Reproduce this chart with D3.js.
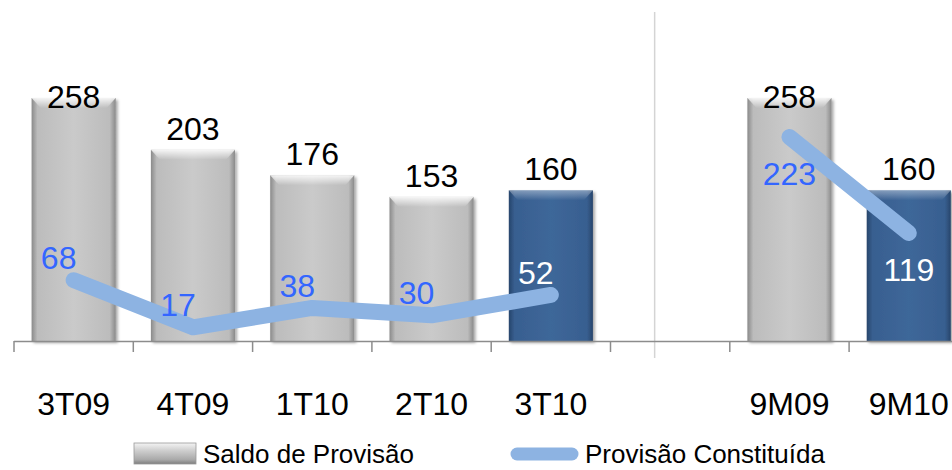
<!DOCTYPE html>
<html lang="pt">
<head>
    <meta charset="UTF-8">
    <title>Saldo de Provisão</title>
    <script src="https://d3js.org/d3.v7.min.js"></script>
    <style>
        body { margin: 0; background: white; }
        text { font-family: "Liberation Sans", Arial, sans-serif; }
    </style>
</head>
<body>
    <svg id="svg1" width="952" height="470" style="background: white"></svg>

    <script>
        // data ---------------------------------------------------------------
        const categories = ["3T09", "4T09", "1T10", "2T10", "3T10", "", "9M09", "9M10"];
        const saldo      = [258, 203, 176, 153, 160, null, 258, 160];     // bars
        const provisao   = [68, 17, 38, 30, 52, null, 223, 119];          // line
        const highlighted = ["3T10", "9M10"];                             // dark blue bars
        const legendLabels = ["Saldo de Provisão", "Provisão Constituída"];

        // layout -------------------------------------------------------------
        const svg = d3.select("svg#svg1");
        const baseY = 341;
        const axisLeft = 14;

        const x = d3.scaleBand()
            .domain(categories.map((c, i) => i))
            .range([axisLeft, axisLeft + 8 * 119.3]);
        const barW = x.bandwidth() * 0.705;

        const yBar = d3.scaleLinear().domain([0, 258]).range([baseY, 98]);
        const yLine = d3.scaleLinear().domain([0, 223]).range([343, 137]);

        const defs = svg.append("defs");

        function hGrad(id, edge, mid, center) {
            const g = defs.append("linearGradient").attr("id", id)
                .attr("x1", "0").attr("x2", "1").attr("y1", "0").attr("y2", "0");
            [[0, edge], [0.07, mid], [0.5, center], [0.93, mid], [1, edge]]
                .forEach(s => g.append("stop").attr("offset", s[0]).attr("stop-color", s[1]));
        }
        hGrad("grayBar", "#8a8a8a", "#bcbcbc", "#cacaca");
        hGrad("blueBar", "#27456b", "#385f90", "#3e6799");

        const bevel = defs.append("linearGradient").attr("id", "bevel")
            .attr("x1", "0").attr("x2", "0").attr("y1", "0").attr("y2", "1");
        bevel.append("stop").attr("offset", 0).attr("stop-color", "white").attr("stop-opacity", 0.85);
        bevel.append("stop").attr("offset", 1).attr("stop-color", "white").attr("stop-opacity", 0);

        const legendGrad = defs.append("linearGradient").attr("id", "legendGray")
            .attr("x1", "0").attr("x2", "0").attr("y1", "0").attr("y2", "1");
        [[0, "#f4f4f4"], [0.35, "#cfcfcf"], [0.8, "#a8a8a8"], [1, "#7d7d7d"]]
            .forEach(s => legendGrad.append("stop").attr("offset", s[0]).attr("stop-color", s[1]));

        const shadow = defs.append("filter").attr("id", "shadow")
            .attr("x", "-20%").attr("y", "-20%").attr("width", "140%").attr("height", "140%");
        shadow.append("feDropShadow").attr("dx", 2).attr("dy", 2)
            .attr("stdDeviation", 1.8).attr("flood-color", "#000").attr("flood-opacity", 0.35);

        // separator between quarterly and 9M panels
        const sepX = x(5) + 0.37 * x.step();
        svg.append("line")
            .attr("x1", sepX).attr("x2", sepX)
            .attr("y1", 12).attr("y2", 358)
            .attr("stroke", "#d4d4d4").attr("stroke-width", 1.5);

        // bars ---------------------------------------------------------------
        const barData = categories.map((c, i) => ({c, i, v: saldo[i]})).filter(d => d.v != null);

        const bars = svg.append("g").selectAll("g").data(barData).join("g");

        bars.append("rect")
            .attr("x", d => x(d.i) + (x.bandwidth() - barW) / 2)
            .attr("y", d => yBar(d.v))
            .attr("width", barW)
            .attr("height", d => baseY - yBar(d.v))
            .attr("fill", d => highlighted.includes(d.c) ? "url(#blueBar)" : "url(#grayBar)")
            .attr("filter", "url(#shadow)");

        // top bevel
        bars.append("path")
            .attr("d", d => {
                const x0 = x(d.i) + (x.bandwidth() - barW) / 2, x1 = x0 + barW, t = yBar(d.v);
                return `M${x0},${t}L${x1},${t}L${x1 - 9},${t + 10}L${x0 + 9},${t + 10}Z`;
            })
            .attr("fill", "url(#bevel)")
            .attr("opacity", d => highlighted.includes(d.c) ? 0.45 : 1);

        // bar labels (clamped to plot top)
        svg.append("g").selectAll("text").data(barData).join("text")
            .attr("x", d => x(d.i) + x.bandwidth() / 2)
            .attr("y", d => Math.max(yBar(d.v) - 10, 108))
            .attr("text-anchor", "middle")
            .attr("font-size", 32)
            .attr("fill", "#000")
            .text(d => d.v);

        // line ---------------------------------------------------------------
        const lineData = categories.map((c, i) => ({c, i, v: provisao[i]}));
        const line = d3.line()
            .defined(d => d.v != null)
            .x(d => x(d.i) + x.bandwidth() / 2)
            .y(d => yLine(d.v));

        svg.append("path")
            .datum(lineData)
            .attr("d", line)
            .attr("fill", "none")
            .attr("stroke", "#8db3e2")
            .attr("stroke-width", 16)
            .attr("stroke-linecap", "round")
            .attr("stroke-linejoin", "round");

        svg.append("g").selectAll("text").data(lineData.filter(d => d.v != null)).join("text")
            .attr("x", d => x(d.i) + x.bandwidth() / 2 + (d.i < 5 ? -15 : 0))
            .attr("y", d => yLine(d.v) + (d.i < 5 ? -11 : 48))
            .attr("text-anchor", "middle")
            .attr("font-size", 32)
            .attr("fill", d => highlighted.includes(d.c) ? "#ffffff" : "#3366ff")
            .text(d => d.v);

        // axis ---------------------------------------------------------------
        svg.append("line")
            .attr("x1", axisLeft).attr("x2", 952)
            .attr("y1", baseY + 0.5).attr("y2", baseY + 0.5)
            .attr("stroke", "#8c8c8c").attr("stroke-width", 1.5);

        svg.append("g").selectAll("line").data(categories.map((c, i) => i)).join("line")
            .attr("x1", i => x(i)).attr("x2", i => x(i))
            .attr("y1", baseY).attr("y2", baseY + 11)
            .attr("stroke", "#8c8c8c").attr("stroke-width", 1.5);

        svg.append("g").selectAll("text").data(categories.map((c, i) => ({c, i}))).join("text")
            .attr("x", d => x(d.i) + x.bandwidth() / 2)
            .attr("y", 415)
            .attr("text-anchor", "middle")
            .attr("font-size", 32)
            .attr("fill", "#000")
            .text(d => d.c);

        // legend -------------------------------------------------------------
        svg.append("rect")
            .attr("x", 134).attr("y", 443).attr("width", 62).attr("height", 21)
            .attr("fill", "url(#legendGray)")
            .attr("stroke", "#9a9a9a").attr("stroke-width", 0.8);
        svg.append("text")
            .attr("x", 203).attr("y", 463)
            .attr("font-size", 26)
            .text(legendLabels[0]);

        svg.append("line")
            .attr("x1", 517).attr("x2", 572).attr("y1", 454).attr("y2", 454)
            .attr("stroke", "#8db3e2").attr("stroke-width", 13)
            .attr("stroke-linecap", "round");
        svg.append("text")
            .attr("x", 585).attr("y", 463)
            .attr("font-size", 26)
            .text(legendLabels[1]);
    </script>
</body>
</html>
